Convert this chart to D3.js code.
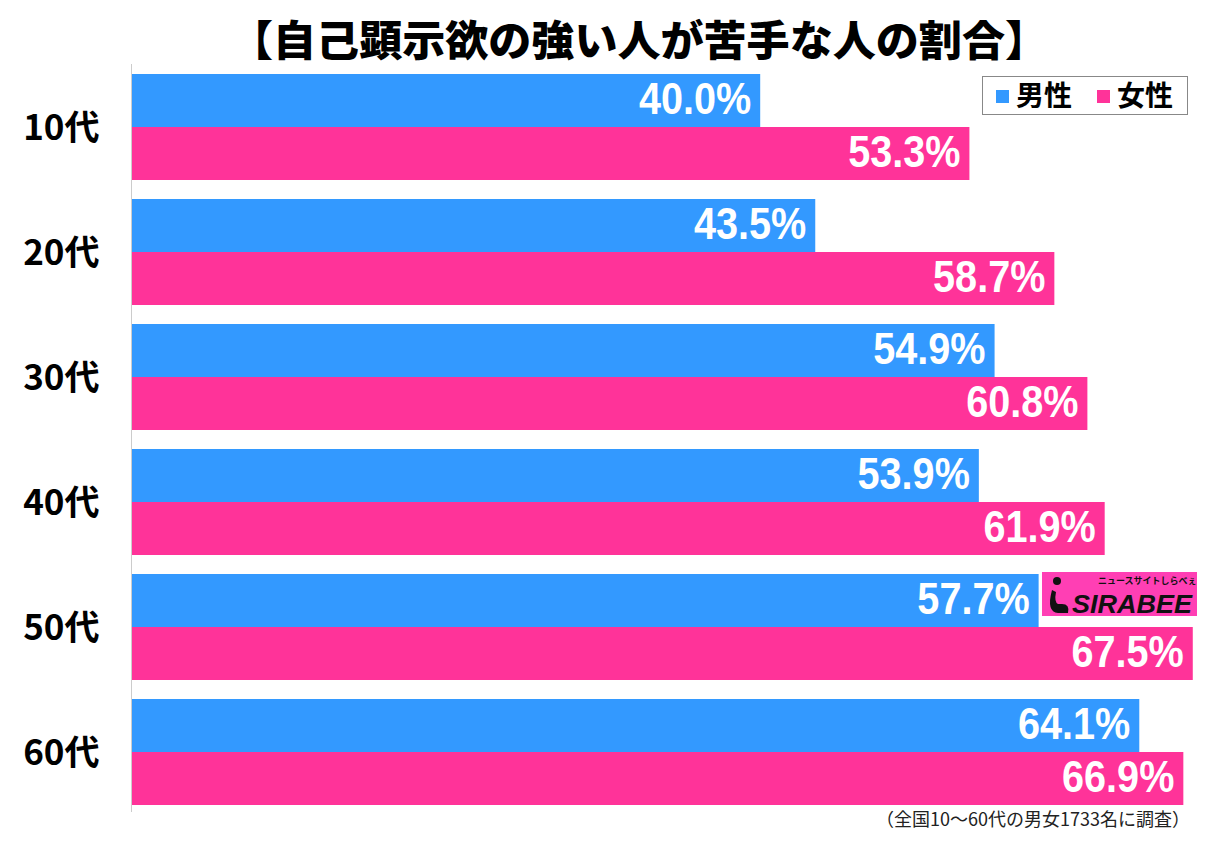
<!DOCTYPE html>
<html><head><meta charset="utf-8">
<script src="https://cdn.jsdelivr.net/npm/d3@7"></script>
<style>body{margin:0;background:#fff;}svg{display:block;}</style>
</head><body>
<svg id="chart" width="1211" height="844"></svg>
<script>
const categories = ["10代","20代","30代","40代","50代","60代"];
const seriesNames = ["男性","女性"];
const maleValues = [40.0, 43.5, 54.9, 53.9, 57.7, 64.1];
const femaleValues = [53.3, 58.7, 60.8, 61.9, 67.5, 66.9];
const colors = ["#3399ff", "#ff3399"];
const title = "【自己顕示欲の強い人が苦手な人の割合】";
const note = "（全国10～60代の男女1733名に調査）";

const svg = d3.select("#chart");
svg.append("rect").attr("width",1211).attr("height",844).attr("fill","#fff");

const x = d3.scaleLinear().domain([0,100]).range([131, 1704]);
const y = d3.scaleBand().domain(categories).range([64.5, 814.5]).paddingInner(0.152).paddingOuter(0.076);
const ySub = d3.scaleBand().domain(seriesNames).range([0, y.bandwidth()]);

// title
svg.append("text").attr("x", 639).attr("y", 56).attr("text-anchor","middle")
  .attr("font-family","'Noto Sans CJK JP'").attr("font-weight",900).attr("font-size",42)
  .attr("fill","#000").attr("textLength",818).attr("lengthAdjust","spacingAndGlyphs").text(title);

const data = categories.map((c,i)=>({cat:c, vals:[{s:seriesNames[0], v:maleValues[i], c:colors[0]},{s:seriesNames[1], v:femaleValues[i], c:colors[1]}]}));

const g = svg.append("g");
const groups = g.selectAll("g.grp").data(data).join("g").attr("class","grp")
  .attr("transform", d=>`translate(0,${y(d.cat)})`);
groups.selectAll("rect").data(d=>d.vals).join("rect")
  .attr("x", x(0)).attr("y", d=>ySub(d.s)).attr("height", ySub.bandwidth())
  .attr("width", d=>x(d.v)-x(0)).attr("fill", d=>d.c);
groups.selectAll("g.lbl").data(d=>d.vals).join("g").attr("class","lbl")
  .attr("transform", d=>`translate(${x(d.v)-9},${ySub(d.s)+ySub.bandwidth()/2+13}) scale(0.9,1)`)
  .append("text").attr("text-anchor","end")
  .attr("font-family","'Liberation Sans', Arial, sans-serif").attr("font-weight","bold").attr("font-size",44)
  .attr("fill","#fff").text(d=>d.v.toFixed(1)+"%");

// axis
const yAxis = d3.axisLeft(y).tickSize(0).tickPadding(32);
const ax = svg.append("g").attr("transform","translate(131.5,0)").call(yAxis);
ax.select(".domain").attr("stroke","#cccccc").attr("d","M0,64V812");
ax.selectAll("text").attr("font-family","'Noto Sans CJK JP'").attr("font-weight","bold")
  .attr("font-size",35).attr("fill","#000").attr("dy","0.36em");

// legend
const lg = svg.append("g");
lg.append("rect").attr("x",982.5).attr("y",76.5).attr("width",205).attr("height",38)
  .attr("fill","#fff").attr("stroke","#888").attr("stroke-width",1);
const lx = [996, 1097];
seriesNames.forEach((s,i)=>{
  lg.append("rect").attr("x",lx[i]).attr("y",90).attr("width",13).attr("height",13).attr("fill",colors[i]);
  lg.append("text").attr("x",lx[i]+20).attr("y",106).attr("font-family","'Noto Sans CJK JP'")
    .attr("font-weight","bold").attr("font-size",28).attr("fill","#000").text(s);
});

// logo
const logo = svg.append("g");
logo.append("rect").attr("x",1042).attr("y",572).attr("width",155).attr("height",44).attr("fill","#ff3fb4");
logo.append("text").attr("x",1072).attr("y",613).attr("font-family","'Liberation Sans'").attr("font-weight","bold")
  .attr("font-style","italic").attr("font-size",25).attr("fill","#111").attr("textLength",120)
  .attr("lengthAdjust","spacingAndGlyphs").text("SIRABEE");
logo.append("text").attr("x",1098).attr("y",584).attr("font-family","'Noto Sans CJK JP'").attr("font-weight","bold")
  .attr("font-size",9).attr("fill","#111").text("ニュースサイトしらべぇ");
logo.append("path").attr("d","M1052,590 Q1046,612 1058,613 L1068,613 Q1070,604 1062,604 L1058,604 Q1054,602 1056,592 Z").attr("fill","#111");
logo.append("circle").attr("cx",1057).attr("cy",581).attr("r",4).attr("fill","#111");

// note
svg.append("text").attr("x",1190).attr("y",826).attr("text-anchor","end")
  .attr("font-family","'Noto Sans CJK JP'").attr("font-size",18).attr("fill","#222").text(note);
</script>
</body></html>
